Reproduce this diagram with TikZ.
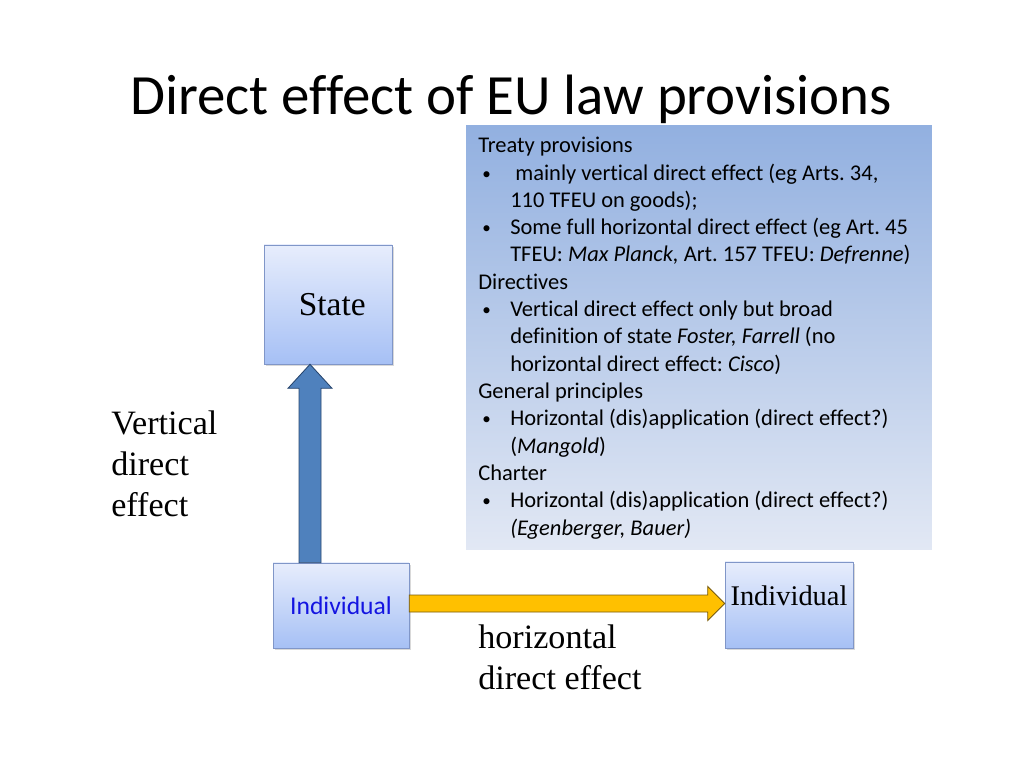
\documentclass[tikz,border=0pt]{standalone}
\usepackage{fontspec}
\setmainfont{Liberation Serif}
\newfontfamily\calibri[Ligatures=NoCommon]{Carlito}
\usetikzlibrary{calc,shadows}
\definecolor{boxtop}{RGB}{231,237,252}
\definecolor{boxbot}{RGB}{166,192,245}
\definecolor{boxline}{RGB}{128,150,200}
\definecolor{paneltop}{RGB}{146,176,224}
\definecolor{panelbot}{RGB}{226,232,244}
\definecolor{vfill}{RGB}{79,129,189}
\definecolor{vline}{RGB}{40,70,110}
\definecolor{hfill}{RGB}{255,192,0}
\definecolor{hline}{RGB}{120,90,10}
\definecolor{indblue}{RGB}{20,20,225}
\newcommand{\bul}{\makebox[22.5pt][l]{\hspace{2.8pt}\raisebox{0.6pt}{\fontsize{12}{12}\selectfont •}}}
\newcommand{\ind}{\hspace*{22.5pt}}
\frenchspacing
\begin{document}
\begin{tikzpicture}[x=0.703125pt, y=-0.703125pt,
  box/.style={draw=boxline, top color=boxtop, bottom color=boxbot,
    drop shadow={shadow xshift=1.2pt, shadow yshift=-1.2pt, opacity=0.3},
    inner sep=0pt},
  panel/.style={top color=paneltop, bottom color=panelbot, inner sep=0pt},
  times/.style={font=\fontsize{24}{28.8}\selectfont, align=left, inner sep=0pt},
  blockv/.style={draw=vline, fill=vfill, line width=0.6pt},
  blockh/.style={draw=hline, fill=hfill, line width=0.6pt}]
\useasboundingbox (0,0) rectangle (1024,768);

% title
\node[font=\calibri\fontsize{40}{48}\selectfont, anchor=base] (title) at (511,115)
  {Direct effect of EU law provisions};

% list on the right
\node[panel, minimum width=327.6pt, minimum height=298.8pt] (panel) at (699,337.5) {};
\node[anchor=north west, align=left, inner sep=0pt,
  font=\calibri\fontsize{15.8}{19.2}\selectfont] (list) at (478,137) {%
Treaty provisions\\
\bul\ mainly vertical direct effect (eg Arts. 34,\\
\ind 110 TFEU on goods);\\
\bul Some full horizontal direct effect (eg Art. 45\\
\ind TFEU: \textit{Max Planck,} Art. 157 TFEU: \textit{Defrenne})\\
Directives\\
\bul Vertical direct effect only but broad\\
\ind definition of state \textit{Foster, Farrell} (no\\
\ind horizontal direct effect: \textit{Cisco})\\
General principles\\
\bul Horizontal (dis)application (direct effect?)\\
\ind (\textit{Mangold})\\
Charter\\
\bul Horizontal (dis)application (direct effect?)\\
\ind \textit{(Egenberger, Bauer)}};

% boxes
\node[box, minimum width=90pt, minimum height=83.7pt,
  font=\fontsize{23.5}{28}\selectfont] (state) at (328,304.5) {\hspace*{6pt}State};
\node[box, minimum width=95.6pt, minimum height=59.8pt,
  font=\calibri\fontsize{18}{22}\selectfont, text=indblue] (indl) at (341,605.5) {Individual};
\node[box, minimum width=90pt, minimum height=60.5pt,
  font=\fontsize{20}{24}\selectfont, text height=14pt, text depth=14pt] (indr) at (789,605) {Individual};

% labels
\node[times, anchor=north west] (vlabel) at (111,411) {Vertical\\direct\\effect};
\node[times, anchor=north west] (hlabel) at (478,625) {horizontal\\direct effect};

% block arrows
\coordinate (vtail) at ($(indl.north)+(-31,0)$);
\coordinate (vtip) at (vtail |- state.south);
\draw[blockv] ($(vtail)+(-11,0)$) -- ($(vtip)+(-11,24)$) -- ($(vtip)+(-22,24)$) -- (vtip)
  -- ($(vtip)+(22,24)$) -- ($(vtip)+(11,24)$) -- ($(vtail)+(11,0)$) -- cycle;
\coordinate (htail) at ($(indl.east)+(0,-2)$);
\coordinate (htip) at (indr.west |- htail);
\draw[blockh] ($(htail)+(0,-8.5)$) -- ($(htip)+(-17,-8.5)$) -- ($(htip)+(-17,-17)$) -- (htip)
  -- ($(htip)+(-17,17)$) -- ($(htip)+(-17,8.5)$) -- ($(htail)+(0,8.5)$) -- cycle;
\end{tikzpicture}
\end{document}
